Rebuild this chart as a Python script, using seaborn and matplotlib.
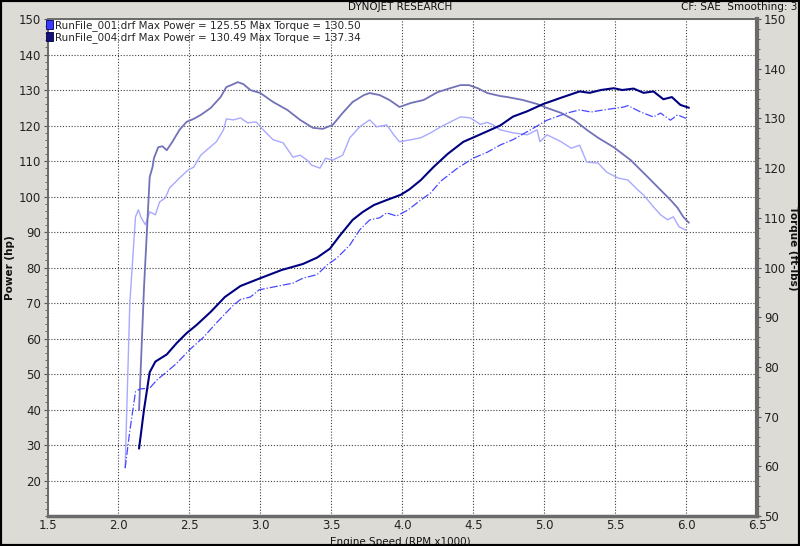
# Dynojet dyno chart: power (hp) and torque (ft-lbs) for two run files
import numpy as np
import pandas as pd
import matplotlib
matplotlib.use("Agg")
import matplotlib.pyplot as plt
import seaborn as sns
from matplotlib.patches import Patch, Rectangle
from matplotlib.ticker import MultipleLocator

# RunFile_004 power (hp)
rpm_p004 = [2.145, 2.18, 2.22, 2.26, 2.34, 2.41, 2.48, 2.55, 2.65, 2.75, 2.86, 3.0, 3.15, 3.3,
            3.4, 3.49, 3.56, 3.65, 3.72, 3.8, 3.89, 3.99, 4.05, 4.13, 4.22, 4.32, 4.43, 4.55,
            4.69, 4.78, 4.88, 4.99, 5.11, 5.25, 5.32, 5.4, 5.49, 5.55, 5.63, 5.7, 5.77, 5.84,
            5.9, 5.96, 6.02]
hp_004 = [29, 40, 50.5, 53.5, 55.5, 58.7, 61.5, 63.8, 67.5, 71.7, 74.8, 77, 79.3, 81,
          82.8, 85.3, 89, 93.4, 95.6, 97.6, 99, 100.5, 102, 104.6, 108.3, 112, 115.4, 117.5,
          120, 122.5, 124, 126, 127.7, 129.6, 129.2, 130, 130.5, 130, 130.4, 129.2, 129.6, 127.4,
          128, 125.8, 125]

# RunFile_001 power (hp)
rpm_p001 = [2.047, 2.08, 2.12, 2.15, 2.22, 2.27, 2.34, 2.41, 2.5, 2.6, 2.69, 2.81, 2.86, 2.93,
            2.99, 3.09, 3.23, 3.3, 3.4, 3.47, 3.54, 3.63, 3.7, 3.77, 3.84, 3.89, 3.96, 4.04,
            4.13, 4.2, 4.27, 4.39, 4.5, 4.6, 4.69, 4.78, 4.9, 5.02, 5.16, 5.25, 5.33, 5.42,
            5.56, 5.59, 5.68, 5.77, 5.82, 5.89, 5.94, 6.0]
hp_001 = [23.5, 34, 45, 45.8, 46, 48.3, 50.6, 53, 56.8, 60.4, 64.4, 69.4, 71, 71.7,
          73.7, 74.5, 75.6, 77, 78, 80.7, 82.7, 86.3, 90.6, 93.4, 94, 95.4, 94.5, 96.2,
          99, 101, 104.3, 108, 110.8, 112.5, 114.5, 116, 118.7, 121.5, 123.5, 124.4, 123.8, 124.4,
          125.2, 125.6, 123.8, 122.4, 123.5, 121.5, 123, 122]

# RunFile_004 torque (ft-lbs)
rpm_t004 = [2.145, 2.18, 2.22, 2.24, 2.25, 2.28, 2.31, 2.34, 2.38, 2.43, 2.48, 2.53, 2.58, 2.65,
            2.72, 2.76, 2.81, 2.84, 2.88, 2.93, 3.0, 3.09, 3.19, 3.28, 3.37, 3.44, 3.51, 3.58,
            3.65, 3.73, 3.77, 3.84, 3.91, 3.98, 4.06, 4.15, 4.25, 4.34, 4.41, 4.47, 4.53, 4.6,
            4.69, 4.74, 4.85, 4.95, 5.02, 5.12, 5.21, 5.3, 5.38, 5.49, 5.61, 5.73, 5.82, 5.89,
            5.94, 5.98, 6.02]
tq_004 = [71.3, 96, 118.2, 120.2, 122, 124.2, 124.4, 123.6, 125.3, 127.7, 129.3, 129.9, 130.7, 132.1,
          134.3, 136.3, 136.9, 137.3, 136.9, 135.7, 135.1, 133.3, 131.7, 129.7, 128.1, 127.9, 128.7, 131.1,
          133.3, 134.7, 135.1, 134.7, 133.7, 132.3, 133.1, 133.7, 135.3, 136.1, 136.7, 136.7, 136.1, 135.1,
          134.5, 134.3, 133.7, 132.9, 132.1, 131.1, 129.7, 127.7, 126.1, 124.2, 121.6, 118.2, 115.6, 113.6,
          112, 110.2, 109]

# RunFile_001 torque (ft-lbs)
rpm_t001 = [2.047, 2.08, 2.12, 2.14, 2.16, 2.19, 2.22, 2.26, 2.29, 2.33, 2.36, 2.43, 2.49, 2.53,
            2.58, 2.62, 2.69, 2.74, 2.76, 2.81, 2.86, 2.91, 2.97, 3.02, 3.09, 3.16, 3.23, 3.28,
            3.33, 3.36, 3.42, 3.46, 3.51, 3.58, 3.63, 3.7, 3.77, 3.82, 3.89, 3.94, 3.98, 4.06,
            4.13, 4.2, 4.27, 4.34, 4.41, 4.48, 4.55, 4.6, 4.64, 4.69, 4.78, 4.88, 4.95, 4.97,
            5.02, 5.12, 5.19, 5.25, 5.3, 5.38, 5.44, 5.52, 5.59, 5.66, 5.7, 5.77, 5.82, 5.87,
            5.91, 5.95, 6.0]
tq_001 = [59.7, 92.9, 110.2, 111.6, 110, 108.6, 111.2, 110.6, 113.2, 114, 116, 118, 119.6, 120.2,
          122.6, 123.6, 125.3, 127.7, 129.9, 129.7, 130.1, 129.1, 129.3, 127.7, 125.7, 125.1, 122.2, 122.6,
          121.6, 120.6, 120, 122, 121.6, 122.6, 126.1, 128.3, 129.7, 128.3, 128.7, 126.7, 125.3, 125.7,
          126.1, 127.1, 128.3, 129.3, 130.3, 130.1, 128.8, 129.2, 128.7, 127.7, 127.1, 126.7, 127.7, 125.3,
          126.7, 125.3, 124, 124.6, 121.2, 121, 119.2, 118, 117.6, 115.6, 114.6, 112.2, 110.6, 109.6,
          110.2, 108.2, 107.5]

legend_labels = ["RunFile_001.drf Max Power = 125.55 Max Torque = 130.50",
                 "RunFile_004.drf Max Power = 130.49 Max Torque = 137.34"]

df_p004 = pd.DataFrame({"rpm": rpm_p004, "val": hp_004})
df_p001 = pd.DataFrame({"rpm": rpm_p001, "val": hp_001})
df_t004 = pd.DataFrame({"rpm": rpm_t004, "val": tq_004})
df_t001 = pd.DataFrame({"rpm": rpm_t001, "val": tq_001})

sns.set_style("white")
plt.rcParams["font.family"] = ["DejaVu Sans"]

fig = plt.figure(figsize=(8, 5.46), dpi=100, facecolor="#dddbd5")
ax = fig.add_axes([0.0594, 0.0549, 0.8869, 0.9103])
ax.set_facecolor("white")
ax2 = ax.twinx()

# torque lines (right axis)
sns.lineplot(data=df_t001, x="rpm", y="val", ax=ax2, color="#a9a9ff", lw=1.0,
             estimator=None, sort=False)
sns.lineplot(data=df_t004, x="rpm", y="val", ax=ax2, color="#7272b8", lw=1.3,
             estimator=None, sort=False)
# power lines (left axis scale)
sns.lineplot(data=df_p001, x="rpm", y="val", ax=ax2, color="#4848ff", lw=0.9,
             linestyle="-.", estimator=None, sort=False,
             transform=ax.transData)
sns.lineplot(data=df_p004, x="rpm", y="val", ax=ax2, color="#000080", lw=1.5,
             estimator=None, sort=False, transform=ax.transData)

ax.set_xlim(1.5, 6.5)
ax.set_ylim(10, 150)
ax2.set_ylim(50, 150)

ax.set_xticks(np.arange(1.5, 6.51, 0.5))
ax.set_xticklabels([f"{v:.1f}" for v in np.arange(1.5, 6.51, 0.5)])
ax.set_yticks(np.arange(20, 151, 10))
ax2.set_yticks(np.arange(50, 151, 10))
ax.xaxis.set_minor_locator(MultipleLocator(0.1))
ax.yaxis.set_minor_locator(MultipleLocator(2))
ax2.yaxis.set_minor_locator(MultipleLocator(2))

ax.grid(True, which="major", color="#404040", linestyle=(0, (1, 1.6)), lw=0.8)
ax.set_axisbelow(True)

ax.tick_params(axis="both", which="major", labelsize=8.5, length=3, color="#555555",
               labelcolor="#222222", direction="out", pad=1.5)
ax.tick_params(axis="x", which="major", pad=0.5, length=2)
ax.tick_params(axis="both", which="minor", length=2, color="#555555", direction="out")
ax2.tick_params(axis="y", which="major", labelsize=8.5, length=3, color="#555555",
                labelcolor="#222222", direction="out", pad=2)
ax2.tick_params(axis="y", which="minor", length=2, color="#555555", direction="out")

for a in (ax, ax2):
    for s in a.spines.values():
        s.set_color("#6a6a6a")
        s.set_linewidth(1.2)
ax2.spines["right"].set_linewidth(3)
ax.spines["bottom"].set_linewidth(2.5)

ax.set_xlabel("")
ax.set_ylabel("")
ax2.set_ylabel("")
fig.text(0.5, 0.008, "Engine Speed (RPM x1000)", ha="center", va="center", fontsize=7.5,
         color="#111111")
fig.text(0.013, 0.51, "Power (hp)", rotation=90, ha="center", va="center", fontsize=7.5,
         fontweight="bold", color="#111111")
fig.text(0.991, 0.545, "Torque (ft-lbs)", rotation=-90, ha="center", va="center", fontsize=7.5,
         fontweight="bold", color="#111111")

# header strip
fig.text(0.5, 0.987, "DYNOJET RESEARCH", ha="center", va="center", fontsize=7.5, color="#111111")
fig.text(0.997, 0.987, "CF: SAE  Smoothing: 3", ha="right", va="center", fontsize=7.5,
         color="#111111")

handles = [Patch(facecolor="#3a3aff", edgecolor="#000060", lw=0.6),
           Patch(facecolor="#12127a", edgecolor="#000040", lw=0.6)]
fig.legend(handles, legend_labels, loc="upper left", bbox_to_anchor=(0.057, 0.964),
           frameon=False, fontsize=7.5, handlelength=0.7, handleheight=1.0,
           handletextpad=0.25, labelspacing=0.12, borderpad=0, borderaxespad=0)

fig.add_artist(Rectangle((0, 0), 1, 1, transform=fig.transFigure, fill=False,
                         edgecolor="black", lw=3))

fig.savefig("out.png", dpi=100, facecolor=fig.get_facecolor())
